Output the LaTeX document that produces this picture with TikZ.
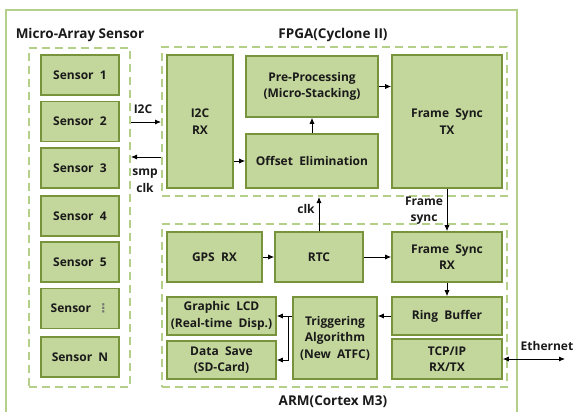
\documentclass[tikz,border=0pt]{standalone}
\usepackage{fontspec}
\setmainfont{Open Sans}
\newfontfamily\dejavu{DejaVu Sans}
\usetikzlibrary{arrows.meta}
\definecolor{boxfill}{HTML}{C3D69B}
\definecolor{boxline}{HTML}{77933C}
\definecolor{frameline}{HTML}{B3CF88}
\definecolor{txt}{HTML}{1A1A1A}
\tikzset{
  blk/.style={draw=boxline, fill=boxfill, line width=1.6pt, align=center, text=txt,
    font=\fontsize{12}{16.5}\selectfont\bfseries, inner sep=0pt},
  frm/.style={draw=frameline, line width=2pt, dash pattern=on 8pt off 5pt, inner sep=0pt},
  lbl/.style={text=txt, font=\fontsize{12}{16.5}\selectfont\bfseries, align=center, inner sep=0pt},
  ttl/.style={text=txt, font=\fontsize{13.5}{16.5}\selectfont\bfseries, align=center, inner sep=0pt},
  arr/.style={-{Latex[length=6pt,width=5pt]}, line width=0.8pt, draw=black},
  darr/.style={{Latex[length=6pt,width=5pt]}-{Latex[length=6pt,width=5pt]}, line width=0.8pt, draw=black}
}
\begin{document}
\begin{tikzpicture}[x=1pt,y=-1pt]
\useasboundingbox (0,0) rectangle (574,412);
\clip (0,0) rectangle (574,412);
\fill[white] (0,0) rectangle (574,412);
% outer frame
\draw[frameline, line width=2pt] (6,420) -- (6,10) -- (517,10) -- (517,420);

% titles
\node[ttl] (tsens) at (80,35) {Micro-Array Sensor};
\node[ttl] (tfpga) at (333,35) {FPGA(Cyclone II)};
\node[ttl] (tarm) at (333,402) {ARM(Cortex M3)};

% dashed frames
\node[frm, minimum width=101pt, minimum height=339pt] (sframe) at (79.5,217.5) {};
\node[frm, minimum width=345pt, minimum height=149pt] (fpga) at (334.5,121.5) {};
\node[frm, minimum width=345pt, minimum height=163pt] (arm) at (334.5,305.5) {};

% sensors
\foreach \n/\t/\y in {s1/Sensor\ \ 1/75, s2/Sensor\ \ 2/121.5, s3/Sensor\ \ 3/168, s4/Sensor\ \ 4/216, s5/Sensor\ \ 5/262, s6/Sensor\ \ {\dejavu\color{black!55}⋮}/308.5, s7/Sensor\ \ N/357}
  \node[blk, minimum width=78pt, minimum height=40pt] (\n) at (80,\y) {\t};

% FPGA blocks
\node[blk, minimum width=66pt, minimum height=133pt] (i2crx) at (200,121.5) {I2C\\RX};
\node[blk, minimum width=132pt, minimum height=61pt] (pre) at (312,86.5) {Pre-Processing\\(Micro-Stacking)};
\node[blk, minimum width=132pt, minimum height=54pt] (off) at (312,161) {Offset\ \ Elimination};
\node[blk, minimum width=110pt, minimum height=133pt] (fstx) at (447,121.5) {Frame\ \ Sync\\TX};

% ARM blocks
\node[blk, minimum width=95pt, minimum height=50pt] (gps) at (214.5,257) {GPS\ \ RX};
\node[blk, minimum width=88pt, minimum height=50pt] (rtc) at (319,257) {RTC};
\node[blk, minimum width=110pt, minimum height=50pt] (fsrx) at (447,257) {Frame\ \ Sync\\RX};
\node[blk, minimum width=109pt, minimum height=38pt] (lcd) at (221.5,316) {Graphic\ \ LCD\\(Real-time\ \ Disp.)};
\node[blk, minimum width=109pt, minimum height=38pt] (save) at (221.5,360) {Data\ \ Save\\(SD-Card)};
\node[blk, minimum width=84pt, minimum height=82pt] (trig) at (335,338) {Triggering\\Algorithm\\(New\ \ ATFC)};
\node[blk, minimum width=110pt, minimum height=38pt] (ring) at (447,316) {Ring\ \ Buffer};
\node[blk, minimum width=110pt, minimum height=40pt] (tcp) at (447,359) {TCP/IP\\RX/TX};

% helper coordinates
\coordinate (yi2c) at (0,122);
\coordinate (ysmp) at (0,157);
\coordinate (xsplit) at (288,0);
\coordinate (eth) at (565,359);

% connectors
\draw[arr] (sframe.east |- yi2c) -- (fpga.west |- yi2c);
\draw[arr] (fpga.west |- ysmp) -- (sframe.east |- ysmp);
\draw[arr] (i2crx.east |- off) -- (off.west);
\draw[arr] (off.north) -- (pre.south);
\draw[arr] (pre.east) -- (fstx.west |- pre);
\draw[arr] (fstx.south) -- (fsrx.north);
\draw[arr] (rtc.north) -- (fpga.south -| rtc);
\draw[arr] (gps.east) -- (rtc.west);
\draw[arr] (rtc.east) -- (fsrx.west);
\draw[arr] (fsrx.south) -- (ring.north);
\draw[arr] (ring.west) -- (trig.east |- ring);
\draw[line width=0.8pt] (trig.west |- lcd) -- (xsplit |- lcd);
\draw[arr] (xsplit |- lcd) -- (lcd.east);
\draw[arr] (xsplit |- lcd) |- (save.east);
\draw[darr] (tcp.east) -- (eth);

% connector labels
\node[lbl] (li2c) at (143,109) {I2C};
\node[lbl] (lsmp) at (145,180.5) {smp\\clk};
\node[lbl] (lclk) at (306,209) {clk};
\node[lbl] (lfs) at (424,210.5) {Frame\\sync};
\node[lbl] (leth) at (547,346) {Ethernet};
\end{tikzpicture}
\end{document}
